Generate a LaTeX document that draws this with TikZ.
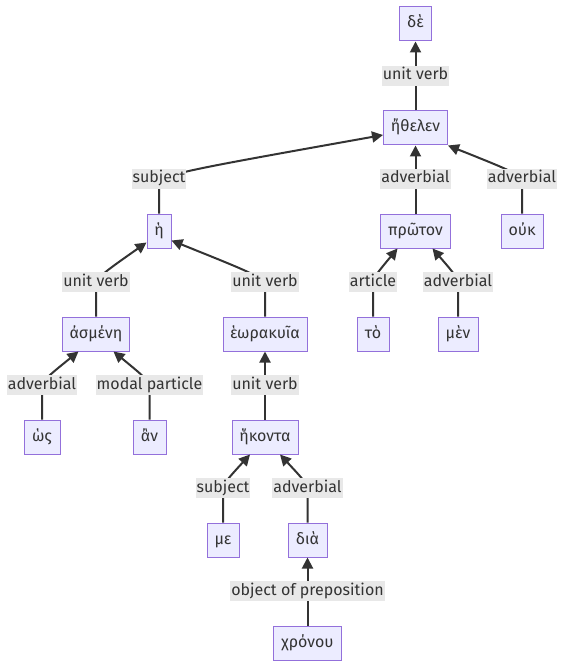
\documentclass[tikz,border=0pt]{standalone}
\usepackage{fontspec}
\setmainfont{Fira Sans}
\usetikzlibrary{arrows.meta,calc}
\definecolor{nodefill}{HTML}{ECECFF}
\definecolor{nodeborder}{HTML}{9370DB}
\definecolor{edgecol}{HTML}{333333}
\definecolor{labelbg}{HTML}{E8E8E8}
\begin{document}
\begin{tikzpicture}[x=1pt,y=-1pt,font=\fontsize{16}{19}\selectfont,
  word/.style={draw=nodeborder,fill=nodefill,line width=1pt,minimum height=34pt,inner xsep=0pt,text height=12pt,text depth=4pt,text=edgecol},
  lab/.style={fill=labelbg,inner xsep=1pt,inner ysep=2pt,text height=12pt,text depth=4pt,text=edgecol},
  edge/.style={draw=edgecol,line width=2pt,-{Triangle[length=11pt,width=11pt]}}]
\useasboundingbox (0,0) rectangle (564,668);
% nodes
\node[word,minimum width=32pt] (de) at (415.5,24) {δὲ};
\node[word,minimum width=64pt] (ethelen) at (415.5,128) {ἤθελεν};
\node[word,minimum width=70pt] (proton) at (415.5,231) {πρῶτον};
\node[word,minimum width=42pt] (ouk) at (522,231) {οὐκ};
\node[word,minimum width=24pt] (he) at (159,231) {ἡ};
\node[word,minimum width=67pt] (asmene) at (96,334) {ἀσμένη};
\node[word,minimum width=84pt] (heorakuia) at (265,334) {ἑωρακυῖα};
\node[word,minimum width=36pt] (hos) at (42,437) {ὡς};
\node[word,minimum width=33pt] (an) at (149.5,437) {ἂν};
\node[word,minimum width=66pt] (hekonta) at (265,437) {ἥκοντα};
\node[word,minimum width=32pt] (me) at (223,540) {με};
\node[word,minimum width=39pt] (dia) at (307.5,540) {διὰ};
\node[word,minimum width=68pt] (chronou) at (307.5,643) {χρόνου};
\node[word,minimum width=32pt] (to) at (373,334) {τὸ};
\node[word,minimum width=40pt] (men) at (458,334) {μὲν};
% label positions
\coordinate (p1) at (415.5,76);
\coordinate (p2) at (159,179);
\coordinate (p3) at (415.5,179);
\coordinate (p4) at (522,179);
\coordinate (p5) at (96,282);
\coordinate (p6) at (265,282);
\coordinate (p7) at (265,385);
\coordinate (p8) at (42,385);
\coordinate (p9) at (149.5,385);
\coordinate (p10) at (223,488);
\coordinate (p11) at (307.5,488);
\coordinate (p12) at (307.5,591);
\coordinate (p13) at (373,282);
\coordinate (p14) at (458,282);
% edges
\draw[edge] (ethelen.north) -- (de.south);
\draw[edge] (he.north) -- ($(p2)+(0,8)$) .. controls ($(p2)+(0,-4)$) .. ($(ethelen.west)+(0,7)$);
\draw[edge] (proton.north) -- (ethelen.south);
\draw[edge] (ouk.north) -- ($(p4)+(0,8)$) .. controls ($(p4)+(0,-4)$) .. (ethelen.south east);
\draw[edge] (asmene.north) -- ($(p5)+(0,8)$) .. controls ($(p5)+(0,-4)$) .. ($(he.south west)+(0,-6)$);
\draw[edge] (heorakuia.north) -- ($(p6)+(0,8)$) .. controls ($(p6)+(0,-4)$) .. ($(he.south east)+(0,-8)$);
\draw[edge] (hekonta.north) -- (heorakuia.south);
\draw[edge] (hos.north) -- ($(p8)+(0,8)$) .. controls ($(p8)+(0,-4)$) .. ($(asmene.south)+(-17.5,0)$);
\draw[edge] (an.north) -- ($(p9)+(0,8)$) .. controls ($(p9)+(0,-4)$) .. ($(asmene.south)+(17.5,0)$);
\draw[edge] (me.north) -- ($(p10)+(0,8)$) .. controls ($(p10)+(0,-4)$) .. ($(hekonta.south)+(-15,0)$);
\draw[edge] (dia.north) -- ($(p11)+(0,8)$) .. controls ($(p11)+(0,-4)$) .. ($(hekonta.south)+(15,0)$);
\draw[edge] (chronou.north) -- (dia.south);
\draw[edge] (to.north) -- ($(p13)+(0,8)$) .. controls ($(p13)+(0,-4)$) .. ($(proton.south)+(-18,0)$);
\draw[edge] (men.north) -- ($(p14)+(0,8)$) .. controls ($(p14)+(0,-4)$) .. ($(proton.south)+(17,0)$);
% labels
\node[lab] (l1) at (p1) {unit verb};
\node[lab] (l2) at (p2) {subject};
\node[lab] (l3) at (p3) {adverbial};
\node[lab] (l4) at (p4) {adverbial};
\node[lab] (l5) at (p5) {unit verb};
\node[lab] (l6) at (p6) {unit verb};
\node[lab] (l7) at (p7) {unit verb};
\node[lab] (l8) at (p8) {adverbial};
\node[lab] (l9) at (p9) {modal particle};
\node[lab] (l10) at (p10) {subject};
\node[lab] (l11) at (p11) {adverbial};
\node[lab] (l12) at (p12) {object of preposition};
\node[lab] (l13) at (p13) {article};
\node[lab] (l14) at (p14) {adverbial};
\end{tikzpicture}
\end{document}
